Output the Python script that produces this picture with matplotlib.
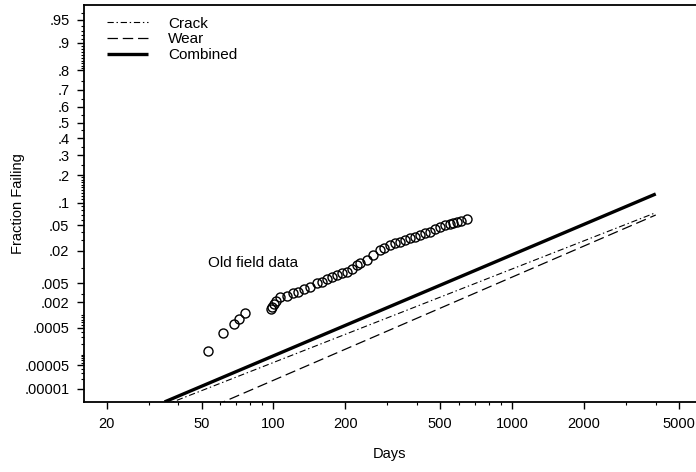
from statistics import NormalDist

import numpy as np
import matplotlib
matplotlib.use("Agg")
import matplotlib.pyplot as plt
from matplotlib.ticker import FixedLocator, FixedFormatter, LogLocator, NullFormatter


# =========================================================
# DATA
# =========================================================
FIELD_DAYS = [53.1, 61.4, 68.4, 72.0, 76.1, 97.8, 99.0, 100.6, 102.6, 106.6,
              113.7, 120.9, 127.2, 134.4, 142.4, 151.9, 159.4, 167.3, 175.6, 184.3,
              193.4, 202.9, 212.9, 223.5, 230.7, 246.1, 262.3, 279.8, 290.0, 308.2,
              323.0, 339.4, 356.0, 373.7, 392.0, 411.5, 432.0, 453.3, 475.0, 499.1,
              524.0, 549.6, 567.0, 586.3, 610.0, 645.7]
FIELD_FRAC = [1.27e-4, 3.68e-4, 6.1e-4, 8.1e-4, 1.13e-3, 1.39e-3, 1.59e-3, 1.83e-3, 2.13e-3, 2.56e-3,
              2.73e-3, 3.12e-3, 3.37e-3, 3.78e-3, 4.28e-3, 5.01e-3, 5.40e-3, 6.04e-3, 6.78e-3, 7.30e-3,
              7.89e-3, 8.45e-3, 9.39e-3, 1.13e-2, 1.21e-2, 1.39e-2, 1.70e-2, 2.06e-2, 2.2e-2, 2.49e-2,
              2.65e-2, 2.82e-2, 3.0e-2, 3.19e-2, 3.4e-2, 3.59e-2, 3.8e-2, 4.02e-2, 4.4e-2, 4.77e-2,
              5.0e-2, 5.22e-2, 5.4e-2, 5.62e-2, 5.8e-2, 6.13e-2]

CRACK_DAYS = [35.0, 4000.0]
CRACK_FRAC = [2.98e-6, 0.0745]

WEAR_DAYS = [50.0, 4000.0]
WEAR_FRAC = [1.85e-6, 0.0694]

COMBINED_DAYS = [35.0, 4000.0]
COMBINED_FRAC = [3.8e-6, 0.1265]

X_TICKS = [20, 50, 100, 200, 500, 1000, 2000, 5000]
Y_TICKS = [0.95, 0.9, 0.8, 0.7, 0.6, 0.5, 0.4, 0.3, 0.2, 0.1, 0.05, 0.02,
           0.005, 0.002, 0.0005, 0.00005, 0.00001]
Y_LABELS = [".95", ".9", ".8", ".7", ".6", ".5", ".4", ".3", ".2", ".1", ".05", ".02",
            ".005", ".002", ".0005", ".00005", ".00001"]
Y_MINOR = ([0.96, 0.94, 0.93, 0.92, 0.91]
           + [0.89, 0.88, 0.87, 0.86, 0.85, 0.84, 0.83, 0.82, 0.81]
           + [0.75, 0.65, 0.55, 0.45, 0.35, 0.25]
           + [0.19, 0.18, 0.17, 0.16, 0.15, 0.14, 0.13, 0.12, 0.11]
           + [0.09, 0.08, 0.07, 0.06, 0.04, 0.03, 0.01, 0.003, 0.001]
           + [0.0009, 0.0008, 0.0007, 0.0006, 0.0004, 0.0003, 0.0002, 0.0001]
           + [0.00009, 0.00008, 0.00007, 0.00006, 0.00004, 0.00003, 0.00002])

XLIM = (16.09, 5898.0)
YLIM = (3.78e-6, 0.9703)

# =========================================================
# PROBABILITY SCALE
# =========================================================
_ND = NormalDist()


def prob_forward(p):
    p = np.clip(np.asarray(p, dtype=float), 1e-15, 1 - 1e-15)
    return np.vectorize(_ND.inv_cdf, otypes=[float])(p)


def prob_inverse(z):
    z = np.asarray(z, dtype=float)
    return np.vectorize(_ND.cdf, otypes=[float])(z)


plt.rcParams["font.family"] = ["Liberation Sans", "DejaVu Sans"]
plt.rcParams["font.size"] = 10.5
plt.rcParams["lines.scale_dashes"] = False

fig = plt.figure(figsize=(6.96, 4.72), dpi=100)
ax = fig.add_axes([84 / 696, 70 / 472, 612 / 696, 397 / 472])

ax.set_xscale("log")
ax.set_yscale("function", functions=(prob_forward, prob_inverse))

ax.plot(COMBINED_DAYS, COMBINED_FRAC, color="black", lw=2.4, solid_capstyle="butt",
        label="Combined")
ax.plot(CRACK_DAYS, CRACK_FRAC, color="black", lw=0.8, linestyle=(0, (4.5, 2, 1, 2)),
        label="Crack")
ax.plot(WEAR_DAYS, WEAR_FRAC, color="black", lw=0.9, linestyle=(0, (7.5, 3.5)),
        label="Wear")
ax.plot(FIELD_DAYS, FIELD_FRAC, linestyle="none", marker="o", markersize=6.5,
        markerfacecolor="none", markeredgecolor="black", markeredgewidth=1.0)

ax.text(53.2, 0.01226, "Old field data", ha="left", va="center", fontsize=11)

ax.set_xlim(*XLIM)
ax.set_ylim(*YLIM)

ax.xaxis.set_major_locator(FixedLocator(X_TICKS))
ax.xaxis.set_major_formatter(FixedFormatter([str(t) for t in X_TICKS]))
ax.xaxis.set_minor_locator(LogLocator(base=10, subs=np.arange(1, 10)))
ax.xaxis.set_minor_formatter(NullFormatter())

ax.yaxis.set_major_locator(FixedLocator(Y_TICKS))
ax.yaxis.set_major_formatter(FixedFormatter(Y_LABELS))
ax.yaxis.set_minor_locator(FixedLocator(Y_MINOR))
ax.yaxis.set_minor_formatter(NullFormatter())

ax.tick_params(which="major", direction="out", length=5, width=1.0, pad=5.5, labelsize=10.5)
ax.tick_params(which="minor", direction="out", length=2.5, width=0.8)
ax.tick_params(axis="x", which="major", pad=6)

for side in ["left", "bottom", "top"]:
    ax.spines[side].set_linewidth(1.3)
ax.spines["right"].set_visible(False)

ax.set_xlabel("Days", fontsize=10.5, labelpad=11)
ax.set_ylabel("Fraction Failing", fontsize=10.5)
ax.yaxis.set_label_coords(-0.0964, 0.5)

handles, labels = ax.get_legend_handles_labels()
order = [labels.index(n) for n in ["Crack", "Wear", "Combined"]]
ax.legend([handles[i] for i in order], [labels[i] for i in order],
          loc="upper left", bbox_to_anchor=(0.0376, 0.971), frameon=False,
          handlelength=2.68, handletextpad=1.3, labelspacing=0.13,
          borderpad=0, borderaxespad=0, fontsize=11)

fig.savefig("out.png", dpi=100)
